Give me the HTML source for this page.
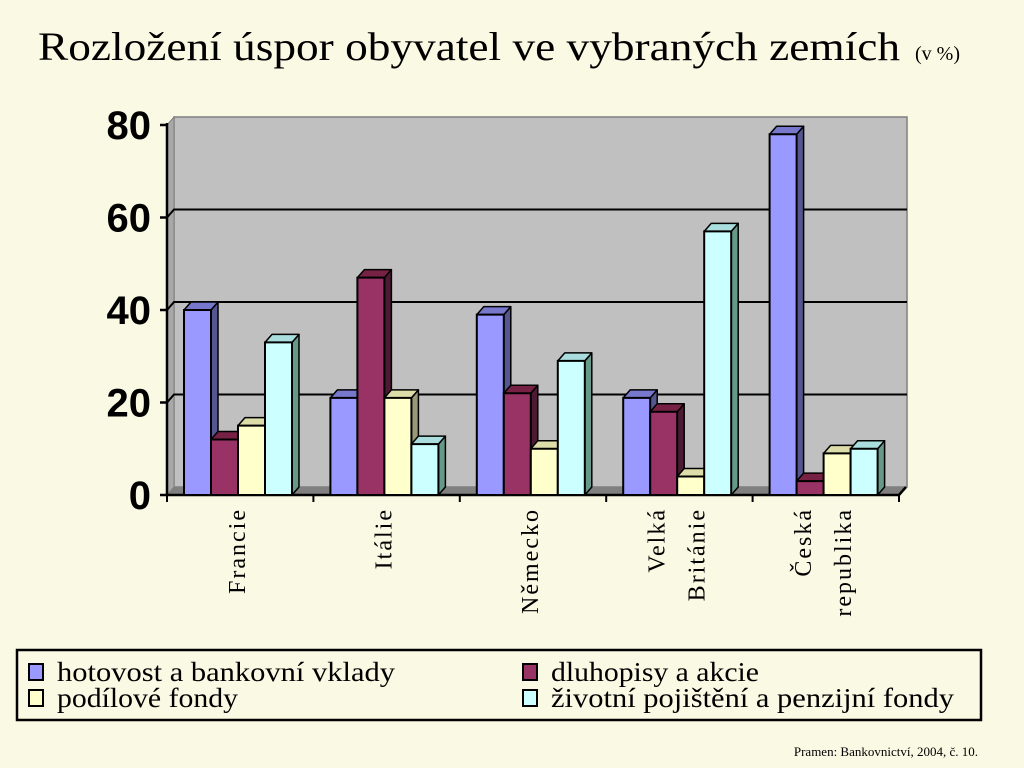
<!DOCTYPE html>
<html><head><meta charset="utf-8">
<style>
html,body{margin:0;padding:0;background:#FAF9E3;}
svg{display:block;}
</style></head>
<body>
<svg id="chart" width="1024" height="768" viewBox="0 0 1024 768" xmlns="http://www.w3.org/2000/svg">
<rect x="0" y="0" width="1024" height="768" fill="#FAF9E3"/>
<text x="38" y="60" font-family="Liberation Serif, serif" font-size="40" textLength="862" lengthAdjust="spacingAndGlyphs">Rozložení úspor obyvatel ve vybraných zemích</text>
<text x="915" y="60" font-family="Liberation Serif, serif" font-size="20">(v %)</text>
<g id="plot"></g>
<rect x="17" y="650" width="964" height="70" fill="none" stroke="#000" stroke-width="2.5"/>
<g id="legend"></g>
<text x="978" y="756" text-anchor="end" font-family="Liberation Serif, serif" font-size="13">Pramen: Bankovnictví, 2004, č. 10.</text>
</svg>
<script>
const categories = [["Francie"], ["Itálie"], ["Německo"], ["Velká", "Británie"], ["Česká", "republika"]];
const seriesNames = ["hotovost a bankovní vklady", "dluhopisy a akcie", "podílové fondy", "životní pojištění a penzijní fondy"];
const hotovost = [40, 21, 39, 21, 78];
const dluhopisy = [12, 47, 22, 18, 3];
const podilove = [15, 21, 10, 4, 9];
const zivotni = [33, 11, 29, 57, 10];
const yTicks = [0, 20, 40, 60, 80];

const series = [hotovost, dluhopisy, podilove, zivotni];
const front = ["#9999FF", "#993366", "#FFFFCC", "#CCFFFF"];
const side = ["#55558F", "#4D1A33", "#999977", "#669988"];
const topc = ["#7777CC", "#772244", "#DDDDAA", "#AADDDD"];
const legendWidths = [338, 208, 181, 403];
const NS = "http://www.w3.org/2000/svg";
const X0 = 167, X1 = 899, Y0 = 495, Y80 = 125, DX = 7, DY = 8;
const y = v => Y0 - (v / 80) * (Y0 - Y80);
const catW = (X1 - X0) / categories.length;
const barW = 27;
const xBar = (i, j) => X0 + i * catW + 17 + j * barW;
const plot = document.getElementById("plot");
function el(tag, attrs, parent) {
  const e = document.createElementNS(NS, tag);
  for (const k in attrs) e.setAttribute(k, attrs[k]);
  (parent || plot).appendChild(e);
  return e;
}
const pts = a => a.map(p => p.join(",")).join(" ");
let w = el("polygon", {points: pts([[X0 + DX, Y80 - DY], [X1 + DX + 1, Y80 - DY], [X1 + DX + 1, Y0 - DY], [X0 + DX, Y0 - DY]]), fill: "#C0C0C0", stroke: "#808080", "stroke-width": 1.5});


w = el("polygon", {points: pts([[X0, Y80], [X0 + DX, Y80 - DY], [X0 + DX, Y0 - DY], [X0, Y0]]), fill: "#A8A8A8", stroke: "#808080"});


w = el("polygon", {points: pts([[X0, Y0], [X0 + DX, Y0 - DY], [X1 + DX + 1, Y0 - DY], [X1, Y0]]), fill: "#808080"});


yTicks.forEach(t => {
  const yy = y(t);
  if (t > 0 && t < 80) {
    const g = el("polyline", {points: pts([[X0, yy], [X0 + DX, yy - DY], [X1 + DX + 1, yy - DY]]), fill: "none", stroke: "#000", "stroke-width": 2});
    
    
  }
  const tk = el("line", {x1: X0 - 7, y1: yy, x2: X0, y2: yy, stroke: "#000", "stroke-width": 2.5});
  
  
  const lb = el("text", {x: 151, y: yy + 14, "text-anchor": "end", "font-family": "Liberation Sans, sans-serif", "font-weight": "bold", "font-size": 40});
  lb.textContent = t;
  
  
});
let ax = el("line", {x1: X0, y1: Y80 - 2, x2: X0, y2: Y0, stroke: "#000", "stroke-width": 2.5});


ax = el("polyline", {points: pts([[X0, Y0], [X1, Y0], [X1 + DX, Y0 - DY]]), fill: "none", stroke: "#000", "stroke-width": 2.5});


for (let i = 0; i <= categories.length; i++) {
  const xx = X0 + i * catW;
  const t = el("line", {x1: xx, y1: Y0, x2: xx, y2: Y0 + 7, stroke: "#000", "stroke-width": 2});
  
  
}
series.forEach((s, j) => {
  s.forEach((v, i) => {
    const x = xBar(i, j), yt = y(v);
    const g = el("g", {});
    
    
    el("polygon", {points: pts([[x + barW, yt], [x + barW + DX, yt - DY], [x + barW + DX, Y0 - DY], [x + barW, Y0]]), fill: side[j], stroke: "#000", "stroke-width": 1.5, "stroke-linejoin": "round"}, g);
    el("polygon", {points: pts([[x, yt], [x + DX, yt - DY], [x + barW + DX, yt - DY], [x + barW, yt]]), fill: topc[j], stroke: "#000", "stroke-width": 1.5, "stroke-linejoin": "round"}, g);
    el("rect", {x: x, y: yt, width: barW, height: Y0 - yt, fill: front[j], stroke: "#000", "stroke-width": 2}, g);
  });
});
categories.forEach((c, i) => {
  const cx = X0 + i * catW + catW / 2 - 3;
  const n = c.length;
  c.forEach((line, k) => {
    const lx = cx + (k - (n - 1) / 2) * 40 + 8;
    const t = el("text", {x: 0, y: 0, transform: "translate(" + lx + "," + 508 + ") rotate(-90)", "text-anchor": "end", "font-family": "Liberation Serif, serif", "font-size": 24, "letter-spacing": 2});
    t.textContent = line;
    
    
  });
});
const lg = document.getElementById("legend");
const legPos = [[33, 680], [527, 680], [33, 706], [527, 706]];
seriesNames.forEach((nm, j) => {
  const [lx, ly] = legPos[j];
  const g = el("g", {}, lg);
  
  
  el("rect", {x: lx - 4, y: ly - 16, width: 14, height: 16, fill: front[j], stroke: "#000", "stroke-width": 2}, g);
  const t = el("text", {x: lx + 24, y: ly + 1, "font-family": "Liberation Serif, serif", "font-size": 27, textLength: legendWidths[j], lengthAdjust: "spacingAndGlyphs"}, g);
  t.textContent = nm;
});
</script>
</body></html>
